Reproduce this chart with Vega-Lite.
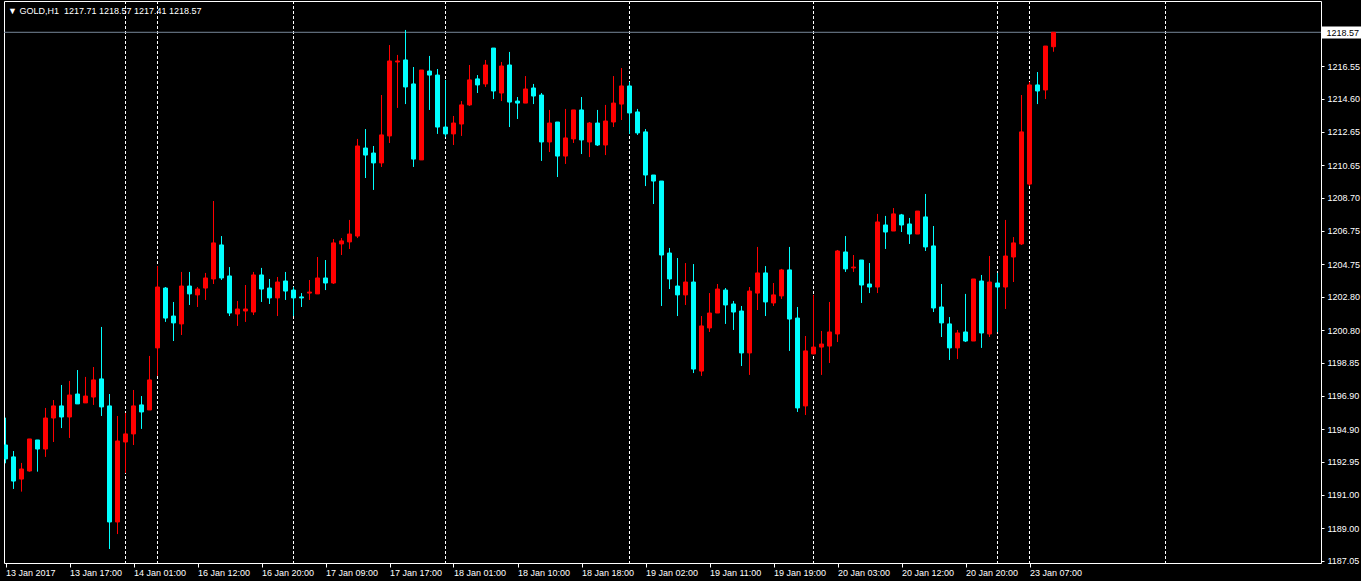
{
  "$schema": "https://vega.github.io/schema/vega-lite/v6.json",
  "autosize": "none",
  "width": 1317,
  "height": 562,
  "padding": {"left": 4, "top": 1, "right": 40, "bottom": 18},
  "background": "#000000",
  "title": {
    "text": "▼ GOLD,H1\u00a0\u00a01217.71 1218.57 1217.41 1218.57",
    "anchor": "start",
    "orient": "top",
    "frame": "group",
    "offset": 0,
    "baseline": "alphabetic",
    "dx": 4,
    "dy": 22,
    "color": "#ffffff",
    "font": "Liberation Sans",
    "fontSize": 9,
    "fontWeight": "normal"
  },
  "config": {
    "view": {"stroke": "#ffffff", "strokeWidth": 1, "fill": "#000000"},
    "axis": {"grid": false, "domain": false, "title": null, "labelOverlap": false}
  },
  "datasets": {
    "candles": [
      {"i":0,"o":1193.96,"h":1195.59,"l":1192.87,"c":1193.13},
      {"i":1,"o":1193.25,"h":1193.60,"l":1191.34,"c":1191.81},
      {"i":2,"o":1191.93,"h":1192.89,"l":1191.18,"c":1192.53},
      {"i":3,"o":1192.41,"h":1194.32,"l":1192.37,"c":1194.32},
      {"i":4,"o":1194.26,"h":1194.26,"l":1192.37,"c":1193.72},
      {"i":5,"o":1193.72,"h":1196.17,"l":1193.25,"c":1195.57},
      {"i":6,"o":1195.57,"h":1196.64,"l":1194.14,"c":1196.29},
      {"i":7,"o":1196.29,"h":1197.54,"l":1194.97,"c":1195.63},
      {"i":8,"o":1195.63,"h":1197.78,"l":1194.38,"c":1196.94},
      {"i":9,"o":1197.00,"h":1198.43,"l":1196.41,"c":1196.41},
      {"i":10,"o":1196.47,"h":1198.02,"l":1196.47,"c":1196.88},
      {"i":11,"o":1196.82,"h":1198.61,"l":1196.35,"c":1197.84},
      {"i":12,"o":1197.90,"h":1201.00,"l":1195.69,"c":1196.23},
      {"i":13,"o":1196.29,"h":1197.00,"l":1187.76,"c":1189.37},
      {"i":14,"o":1189.37,"h":1195.69,"l":1188.65,"c":1194.20},
      {"i":15,"o":1194.14,"h":1195.87,"l":1192.29,"c":1194.62},
      {"i":16,"o":1194.62,"h":1197.24,"l":1193.96,"c":1196.29},
      {"i":17,"o":1196.35,"h":1196.88,"l":1194.92,"c":1195.93},
      {"i":18,"o":1196.05,"h":1199.27,"l":1196.05,"c":1197.84},
      {"i":19,"o":1199.75,"h":1204.63,"l":1198.08,"c":1203.38},
      {"i":20,"o":1203.32,"h":1203.38,"l":1201.30,"c":1201.53},
      {"i":21,"o":1201.65,"h":1202.49,"l":1200.16,"c":1201.24},
      {"i":22,"o":1201.18,"h":1204.28,"l":1200.52,"c":1203.44},
      {"i":23,"o":1203.44,"h":1204.28,"l":1202.31,"c":1202.97},
      {"i":24,"o":1202.91,"h":1203.38,"l":1202.19,"c":1203.26},
      {"i":25,"o":1203.32,"h":1204.22,"l":1202.61,"c":1203.92},
      {"i":26,"o":1203.86,"h":1208.51,"l":1203.56,"c":1206.01},
      {"i":27,"o":1205.89,"h":1206.42,"l":1203.80,"c":1203.92},
      {"i":28,"o":1204.04,"h":1204.57,"l":1201.65,"c":1201.83},
      {"i":29,"o":1201.77,"h":1202.55,"l":1201.06,"c":1202.07},
      {"i":30,"o":1201.95,"h":1203.50,"l":1201.30,"c":1202.07},
      {"i":31,"o":1201.89,"h":1204.28,"l":1201.71,"c":1204.10},
      {"i":32,"o":1204.10,"h":1204.52,"l":1202.49,"c":1203.26},
      {"i":33,"o":1203.32,"h":1203.86,"l":1202.37,"c":1202.73},
      {"i":34,"o":1202.73,"h":1203.98,"l":1201.65,"c":1203.68},
      {"i":35,"o":1203.74,"h":1204.28,"l":1202.61,"c":1203.14},
      {"i":36,"o":1203.20,"h":1203.38,"l":1201.65,"c":1202.73},
      {"i":37,"o":1202.79,"h":1203.02,"l":1202.19,"c":1202.73},
      {"i":38,"o":1203.02,"h":1203.80,"l":1202.61,"c":1203.08},
      {"i":39,"o":1202.97,"h":1205.17,"l":1202.97,"c":1203.92},
      {"i":40,"o":1203.92,"h":1204.99,"l":1203.20,"c":1203.62},
      {"i":41,"o":1203.62,"h":1206.24,"l":1203.56,"c":1206.01},
      {"i":42,"o":1205.95,"h":1206.30,"l":1205.29,"c":1206.13},
      {"i":43,"o":1206.07,"h":1207.38,"l":1205.65,"c":1206.54},
      {"i":44,"o":1206.42,"h":1212.21,"l":1206.30,"c":1211.79},
      {"i":45,"o":1211.67,"h":1212.80,"l":1209.88,"c":1211.25},
      {"i":46,"o":1211.37,"h":1211.79,"l":1209.17,"c":1210.78},
      {"i":47,"o":1210.78,"h":1214.83,"l":1210.54,"c":1212.45},
      {"i":48,"o":1212.39,"h":1217.81,"l":1211.97,"c":1216.86},
      {"i":49,"o":1216.80,"h":1217.22,"l":1214.06,"c":1216.86},
      {"i":50,"o":1216.92,"h":1218.71,"l":1214.29,"c":1215.31},
      {"i":51,"o":1215.49,"h":1216.50,"l":1210.54,"c":1211.01},
      {"i":52,"o":1210.96,"h":1216.32,"l":1210.96,"c":1216.32},
      {"i":53,"o":1216.26,"h":1217.16,"l":1213.94,"c":1216.02},
      {"i":54,"o":1216.02,"h":1216.38,"l":1212.51,"c":1212.92},
      {"i":55,"o":1212.92,"h":1215.73,"l":1212.33,"c":1212.51},
      {"i":56,"o":1212.51,"h":1213.58,"l":1211.85,"c":1213.16},
      {"i":57,"o":1213.10,"h":1214.47,"l":1212.39,"c":1214.24},
      {"i":58,"o":1214.24,"h":1216.62,"l":1214.18,"c":1215.73},
      {"i":59,"o":1215.79,"h":1216.02,"l":1214.95,"c":1215.43},
      {"i":60,"o":1215.49,"h":1216.92,"l":1215.31,"c":1216.62},
      {"i":61,"o":1217.63,"h":1217.63,"l":1214.59,"c":1215.07},
      {"i":62,"o":1214.95,"h":1216.80,"l":1214.47,"c":1216.56},
      {"i":63,"o":1216.62,"h":1217.40,"l":1212.92,"c":1214.41},
      {"i":64,"o":1214.47,"h":1214.71,"l":1213.40,"c":1214.35},
      {"i":65,"o":1214.35,"h":1215.96,"l":1214.35,"c":1215.19},
      {"i":66,"o":1215.25,"h":1215.49,"l":1214.29,"c":1214.77},
      {"i":67,"o":1214.83,"h":1214.95,"l":1210.90,"c":1212.03},
      {"i":68,"o":1212.03,"h":1213.94,"l":1211.43,"c":1213.16},
      {"i":69,"o":1213.22,"h":1213.22,"l":1209.94,"c":1211.19},
      {"i":70,"o":1211.19,"h":1214.00,"l":1210.72,"c":1212.27},
      {"i":71,"o":1212.21,"h":1213.94,"l":1211.97,"c":1213.94},
      {"i":72,"o":1213.94,"h":1214.71,"l":1211.31,"c":1212.15},
      {"i":73,"o":1212.03,"h":1213.22,"l":1211.13,"c":1213.16},
      {"i":74,"o":1213.16,"h":1213.94,"l":1211.79,"c":1211.85},
      {"i":75,"o":1211.85,"h":1214.24,"l":1211.25,"c":1213.28},
      {"i":76,"o":1213.22,"h":1215.96,"l":1212.92,"c":1214.35},
      {"i":77,"o":1214.29,"h":1216.44,"l":1213.34,"c":1215.37},
      {"i":78,"o":1215.37,"h":1215.61,"l":1212.51,"c":1213.76},
      {"i":79,"o":1213.82,"h":1214.00,"l":1212.45,"c":1212.57},
      {"i":80,"o":1212.63,"h":1212.80,"l":1209.40,"c":1210.06},
      {"i":81,"o":1210.06,"h":1210.06,"l":1208.33,"c":1209.70},
      {"i":82,"o":1209.70,"h":1209.70,"l":1202.25,"c":1205.29},
      {"i":83,"o":1205.41,"h":1205.71,"l":1203.26,"c":1203.86},
      {"i":84,"o":1203.44,"h":1205.11,"l":1201.65,"c":1202.91},
      {"i":85,"o":1202.91,"h":1204.81,"l":1202.31,"c":1203.68},
      {"i":86,"o":1203.68,"h":1204.75,"l":1198.25,"c":1198.49},
      {"i":87,"o":1198.37,"h":1201.65,"l":1198.08,"c":1201.06},
      {"i":88,"o":1200.94,"h":1203.02,"l":1200.70,"c":1201.83},
      {"i":89,"o":1201.83,"h":1203.56,"l":1201.83,"c":1203.26},
      {"i":90,"o":1203.20,"h":1203.32,"l":1201.18,"c":1202.31},
      {"i":91,"o":1202.37,"h":1202.55,"l":1200.82,"c":1201.89},
      {"i":92,"o":1201.95,"h":1202.25,"l":1198.67,"c":1199.45},
      {"i":93,"o":1199.45,"h":1203.38,"l":1198.14,"c":1203.14},
      {"i":94,"o":1203.02,"h":1205.77,"l":1202.01,"c":1204.22},
      {"i":95,"o":1204.22,"h":1204.63,"l":1201.65,"c":1202.49},
      {"i":96,"o":1202.43,"h":1203.62,"l":1202.25,"c":1202.91},
      {"i":97,"o":1202.85,"h":1204.46,"l":1202.67,"c":1204.40},
      {"i":98,"o":1204.40,"h":1205.77,"l":1199.57,"c":1201.47},
      {"i":99,"o":1201.53,"h":1202.19,"l":1195.93,"c":1196.17},
      {"i":100,"o":1196.29,"h":1200.46,"l":1195.75,"c":1199.57},
      {"i":101,"o":1199.39,"h":1202.91,"l":1199.39,"c":1199.80},
      {"i":102,"o":1199.80,"h":1200.76,"l":1198.14,"c":1199.98},
      {"i":103,"o":1199.86,"h":1202.49,"l":1198.85,"c":1200.70},
      {"i":104,"o":1200.58,"h":1205.59,"l":1200.10,"c":1205.53},
      {"i":105,"o":1205.47,"h":1206.42,"l":1204.28,"c":1204.46},
      {"i":106,"o":1204.52,"h":1205.29,"l":1204.28,"c":1204.57},
      {"i":107,"o":1204.99,"h":1204.99,"l":1202.43,"c":1203.50},
      {"i":108,"o":1203.56,"h":1204.81,"l":1203.02,"c":1203.38},
      {"i":109,"o":1203.38,"h":1207.74,"l":1203.02,"c":1207.26},
      {"i":110,"o":1207.08,"h":1207.62,"l":1205.65,"c":1206.66},
      {"i":111,"o":1206.72,"h":1208.09,"l":1206.72,"c":1207.74},
      {"i":112,"o":1207.68,"h":1207.74,"l":1206.66,"c":1207.08},
      {"i":113,"o":1207.14,"h":1207.50,"l":1205.95,"c":1206.54},
      {"i":114,"o":1206.54,"h":1207.91,"l":1206.54,"c":1207.91},
      {"i":115,"o":1207.56,"h":1208.93,"l":1205.53,"c":1205.77},
      {"i":116,"o":1205.83,"h":1207.02,"l":1201.89,"c":1202.13},
      {"i":117,"o":1202.19,"h":1203.56,"l":1200.40,"c":1201.24},
      {"i":118,"o":1201.18,"h":1201.59,"l":1199.03,"c":1199.75},
      {"i":119,"o":1199.75,"h":1200.82,"l":1199.09,"c":1200.64},
      {"i":120,"o":1200.70,"h":1202.97,"l":1200.10,"c":1200.16},
      {"i":121,"o":1200.16,"h":1203.86,"l":1200.16,"c":1203.86},
      {"i":122,"o":1203.74,"h":1204.10,"l":1199.75,"c":1200.64},
      {"i":123,"o":1200.58,"h":1205.23,"l":1200.40,"c":1203.68},
      {"i":124,"o":1203.62,"h":1204.22,"l":1200.70,"c":1203.38},
      {"i":125,"o":1203.38,"h":1207.38,"l":1202.07,"c":1205.23},
      {"i":126,"o":1205.17,"h":1206.36,"l":1203.68,"c":1206.01},
      {"i":127,"o":1205.95,"h":1214.83,"l":1205.89,"c":1212.63},
      {"i":128,"o":1209.52,"h":1215.61,"l":1209.40,"c":1215.43},
      {"i":129,"o":1215.43,"h":1216.20,"l":1214.29,"c":1215.07},
      {"i":130,"o":1215.13,"h":1217.75,"l":1214.59,"c":1217.75},
      {"i":131,"o":1217.71,"h":1218.57,"l":1217.41,"c":1218.57}
    ],
    "seps": [{"i":15},{"i":19},{"i":36},{"i":55},{"i":78},{"i":101},{"i":124},{"i":128},{"i":145}],
    "bid": [{"price":1218.57}]
  },
  "layer": [
    {
      "data": {"name": "seps"},
      "mark": {"type": "rule", "color": "#ffffff", "strokeWidth": 1, "strokeDash": [3, 2], "clip": true},
      "encoding": {
        "x": {
          "field": "i", "type": "quantitative",
          "scale": {"domain": [-0.1875, 164.4375], "nice": false, "zero": false, "padding": 0},
          "axis": {
            "orient": "bottom",
            "values": [0,8,16,24,32,40,48,56,64,72,80,88,96,104,112,120,128],
            "tickCount": 40,
            "labelExpr": "['13 Jan 2017','13 Jan 17:00','14 Jan 01:00','16 Jan 12:00','16 Jan 20:00','17 Jan 09:00','17 Jan 17:00','18 Jan 01:00','18 Jan 10:00','18 Jan 18:00','19 Jan 02:00','19 Jan 11:00','19 Jan 19:00','20 Jan 03:00','20 Jan 12:00','20 Jan 20:00','23 Jan 07:00'][round(datum.value / 8)]",
            "labelAlign": "left",
            "labelBaseline": "top",
            "labelPadding": 1,
            "labelOverlap": false,
            "labelFlush": false,
            "labelBound": false,
            "labelColor": "#ffffff",
            "labelFont": "Liberation Sans",
            "labelFontSize": 9,
            "tickColor": "#ffffff",
            "tickSize": 4,
            "tickWidth": 1
          }
        }
      }
    },
    {
      "data": {"name": "bid"},
      "mark": {"type": "rule", "color": "#778899", "strokeWidth": 1, "clip": true},
      "encoding": {
        "y": {
          "field": "price", "type": "quantitative",
          "scale": {"domain": [1186.924, 1220.436], "nice": false, "zero": false, "padding": 0},
          "axis": {
            "orient": "right",
            "values": [1187.05,1189.00,1191.00,1192.95,1194.90,1196.90,1198.85,1200.80,1202.80,1204.75,1206.75,1208.70,1210.65,1212.65,1214.60,1216.55,1218.57],
            "tickCount": 40,
            "format": ".2f",
            "labelAlign": "left",
            "labelBaseline": "middle",
            "labelOverlap": false,
            "labelFlush": false,
            "labelBound": false,
            "labelFont": "Liberation Sans",
            "labelFontSize": 9,
            "labelColor": {"condition": {"test": "datum.value == 1218.57", "value": "#000000"}, "value": "#ffffff"},
            "labelPadding": {"condition": {"test": "datum.value == 1218.57", "value": -35}, "value": 3},
            "tickColor": "#ffffff",
            "tickSize": {"condition": {"test": "datum.value == 1218.57", "value": 40}, "value": 3},
            "tickWidth": {"condition": {"test": "datum.value == 1218.57", "value": 12}, "value": 1}
          }
        }
      }
    },
    {
      "data": {"name": "candles"},
      "mark": {"type": "rule", "strokeWidth": 1, "clip": true},
      "encoding": {
        "x": {"field": "i", "type": "quantitative"},
        "y": {"field": "l", "type": "quantitative"},
        "y2": {"field": "h"},
        "color": {"condition": {"test": "datum.c > datum.o", "value": "#ff0000"}, "value": "#00ffff"}
      }
    },
    {
      "data": {"name": "candles"},
      "mark": {"type": "bar", "width": 4, "strokeWidth": 1, "clip": true},
      "encoding": {
        "x": {"field": "i", "type": "quantitative"},
        "y": {"field": "o", "type": "quantitative"},
        "y2": {"field": "c"},
        "fill": {"condition": {"test": "datum.c > datum.o", "value": "#ff0000"}, "value": "#00ffff"},
        "stroke": {"condition": {"test": "datum.c > datum.o", "value": "#ff0000"}, "value": "#00ffff"}
      }
    }
  ]
}
